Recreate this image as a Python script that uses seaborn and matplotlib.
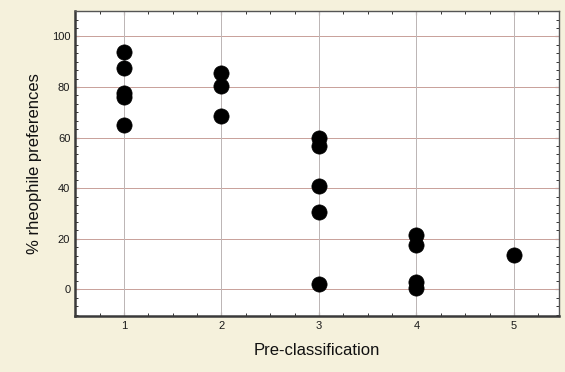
import matplotlib
matplotlib.use("Agg")
import matplotlib.pyplot as plt
import seaborn as sns
import pandas as pd
from matplotlib.ticker import MultipleLocator, AutoMinorLocator

pre_class = [1, 1, 1, 1, 1, 2, 2, 2, 3, 3, 3, 3, 3, 4, 4, 4, 4, 5]
rheophile = [94, 87.5, 77.5, 76, 65, 85.5, 80.5, 68.5, 60, 56.5, 41, 30.5, 2, 21.5, 17.5, 3, 0.5, 13.5]

df = pd.DataFrame({"Pre-classification": pre_class, "% rheophile preferences": rheophile})

sns.set_theme(style="white")
plt.rcParams['font.family'] = ['Liberation Sans', 'DejaVu Sans']

fig = plt.figure(figsize=(5.65, 3.72), dpi=100, facecolor="#f5f1dc")
ax = fig.add_axes([0.133, 0.151, 0.856, 0.819])
ax.set_facecolor("white")

sns.scatterplot(data=df, x="Pre-classification", y="% rheophile preferences",
                color="black", s=120, edgecolor="black", linewidth=0.5, ax=ax, zorder=3)

ax.set_xlim(0.5, 5.46)
ax.set_ylim(-10.5, 110)
ax.xaxis.set_major_locator(MultipleLocator(1))
ax.xaxis.set_minor_locator(MultipleLocator(0.25))
ax.set_yticks([0, 20, 40, 60, 80, 100])
ax.yaxis.set_minor_locator(AutoMinorLocator(6))

for y in [0, 20, 40, 60, 80, 100]:
    ax.axhline(y, color="#c9a29c", lw=0.72, zorder=1)
for x in [1, 2, 3, 4, 5]:
    ax.axvline(x, color="#bdb6b6", lw=0.72, zorder=1)

ax.tick_params(axis="both", which="both", direction="in", top=True, right=True,
               bottom=True, left=True, colors="#333333", labelcolor="#1a1a1a")
ax.tick_params(which="major", length=3, width=0.8, labelsize=8)
ax.tick_params(which="minor", length=2, width=0.7)
for side in ["left", "bottom"]:
    ax.spines[side].set_color("#3a3a3a")
    ax.spines[side].set_linewidth(1.8)
for side in ["top", "right"]:
    ax.spines[side].set_color("#555555")
    ax.spines[side].set_linewidth(1.0)

ax.set_xlabel("Pre-classification", fontsize=12, color="#111111", labelpad=9)
ax.set_ylabel("% rheophile preferences", fontsize=12, color="#111111", labelpad=7)

fig.savefig("out.png", dpi=100, facecolor=fig.get_facecolor())
